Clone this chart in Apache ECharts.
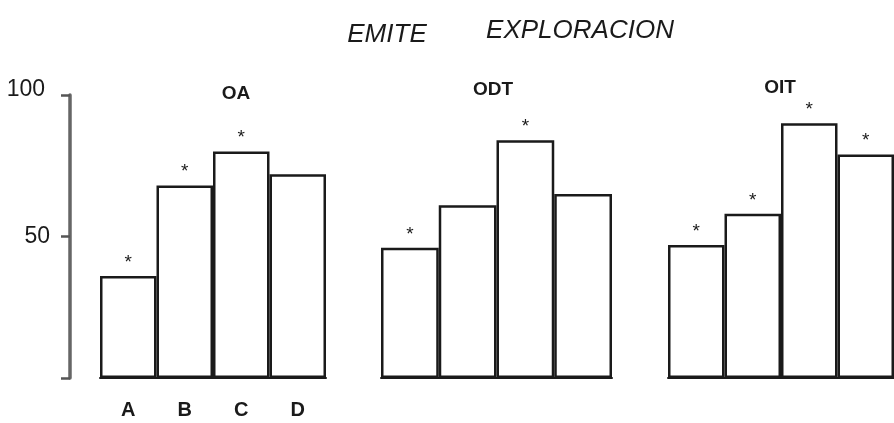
<!DOCTYPE html>
<html>
<head>
<meta charset="utf-8">
<script src="https://cdn.jsdelivr.net/npm/echarts@6/dist/echarts.min.js"></script>
<style>
  html, body { margin: 0; padding: 0; background: #fff; }
  #chart { width: 894px; height: 423px; }
</style>
</head>
<body>
<div id="chart"></div>
<script>
// categories and panel names
const categories = ['A', 'B', 'C', 'D'];
const panels = ['OA', 'ODT', 'OIT'];

// bar values (%)
const oaValues = [36, 68, 80, 72];
const odtValues = [46, 61, 84, 65];
const oitValues = [47, 58, 90, 79];

// significance marks (asterisk above bar)
const oaStars = [true, true, true, false];
const odtStars = [true, false, true, false];
const oitStars = [true, true, true, true];

const yTicks = [0, 50, 100];

const font = '"Liberation Sans", Arial, sans-serif';
const ink = '#1a1a1a';

const grids = [
  { left: 100, width: 226, top: 95, bottom: 45 },
  { left: 381, width: 231, top: 95, bottom: 45 },
  { left: 668, width: 229, top: 95, bottom: 45 }
];

function buildData(values, stars) {
  return values.map((v, i) => ({
    value: v,
    label: { show: stars[i] }
  }));
}

const seriesData = [
  buildData(oaValues, oaStars),
  buildData(odtValues, odtStars),
  buildData(oitValues, oitStars)
];

const titleCenters = [231, 488, 775];
const titleTops = [79, 75, 73];

const headStyle = { fontFamily: font, fontStyle: 'italic', fontWeight: 'normal', fontSize: 26, color: ink };

let option = {
  animation: false,
  backgroundColor: '#fff',
  title: [
    { text: 'EMITE', left: 382, top: 17, textAlign: 'center', textStyle: headStyle },
    { text: 'EXPLORACION', left: 575, top: 13, textAlign: 'center', textStyle: headStyle }
  ].concat(panels.map((p, i) => ({
    text: p,
    left: titleCenters[i],
    top: titleTops[i],
    textAlign: 'center',
    textStyle: { fontFamily: font, fontWeight: 'bold', fontSize: 19, color: ink }
  }))),
  grid: grids,
  xAxis: grids.map((g, i) => ({
    type: 'category',
    gridIndex: i,
    data: categories,
    axisLine: { show: true, lineStyle: { color: ink, width: 2 } },
    axisTick: { show: false },
    axisLabel: {
      show: i === 0,
      margin: 22,
      fontFamily: font,
      fontWeight: 'bold',
      fontSize: 20,
      color: ink
    }
  })),
  yAxis: grids.map((g, i) => ({
    type: 'value',
    gridIndex: i,
    min: yTicks[0],
    max: yTicks[yTicks.length - 1],
    interval: 50,
    show: i === 0,
    offset: 30,
    splitLine: { show: false },
    axisLine: { show: true, lineStyle: { color: '#666', width: 3.5 } },
    axisTick: { show: true, length: 9, lineStyle: { color: '#555', width: 2.5 } },
    axisLabel: {
      fontFamily: font,
      fontSize: 23,
      color: ink,
      margin: 20,
      formatter: (v) => (v === 0 ? '' : v === 100 ? '{top|100}' : String(v)),
      rich: {
        top: { fontFamily: font, fontSize: 23, color: ink, padding: [0, 5, 10, 0] }
      }
    }
  })),
  series: seriesData.map((d, i) => ({
    type: 'bar',
    xAxisIndex: i,
    yAxisIndex: i,
    data: d,
    barCategoryGap: '0%',
    itemStyle: { color: '#fff', borderColor: ink, borderWidth: 2.5 },
    label: {
      position: 'top',
      distance: 4,
      formatter: '*',
      fontFamily: font,
      fontSize: 19,
      color: ink
    }
  }))
};

const myChart = echarts.init(document.getElementById('chart'));
option && myChart.setOption(option);
</script>
</body>
</html>
